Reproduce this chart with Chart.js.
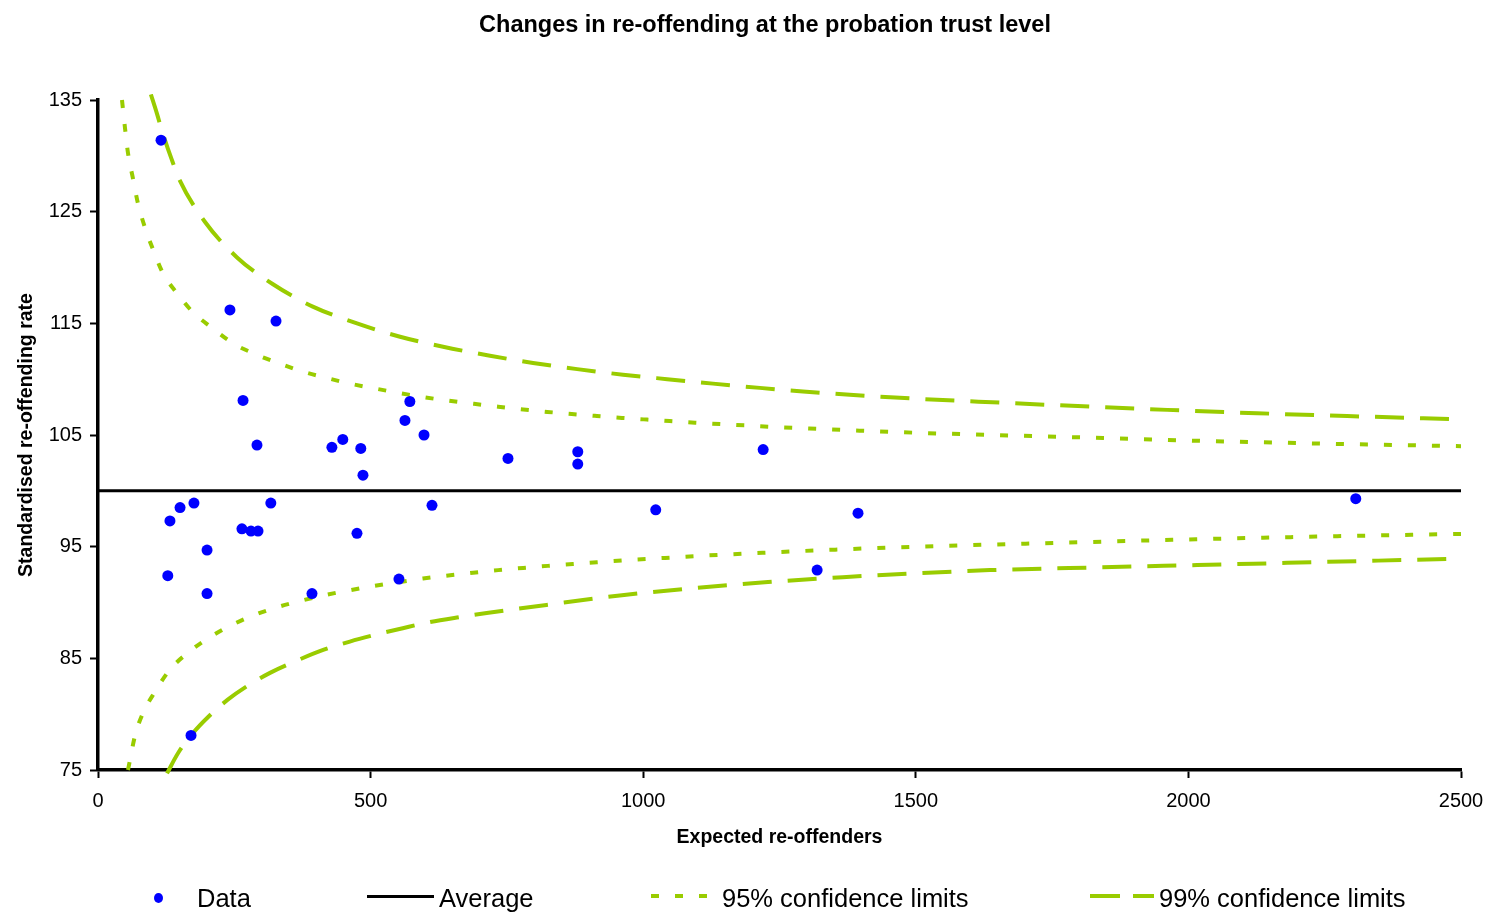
<!DOCTYPE html>
<html>
<head>
<meta charset="utf-8">
<script src="https://cdn.jsdelivr.net/npm/chart.js@4.4.0/dist/chart.umd.min.js"></script>
<style>
  html, body { margin: 0; padding: 0; background: #ffffff; }
  #wrap { position: relative; width: 1490px; height: 913px; overflow: hidden; font-family: "Liberation Sans", Arial, sans-serif; }
  #c { position: absolute; left: 0; top: 0; }
  #title { position: absolute; left: 765px; top: 13px; transform: translateX(-50%); white-space: nowrap;
           font-weight: bold; font-size: 23.5px; line-height: 1; color: #000; }
  .lg { position: absolute; white-space: nowrap; font-size: 25.5px; line-height: 1; color: #000; top: 886px; }
  .mk { position: absolute; }
</style>
</head>
<body>
<div id="wrap">
  <canvas id="c" width="1490" height="913"></canvas>
  <div id="title">Changes in re-offending at the probation trust level</div>
  <div class="mk" style="left:154px; top:893px; width:9px; height:10px; border-radius:50%; background:#0000FF;"></div>
  <div class="lg" style="left:197px;">Data</div>
  <div class="mk" style="left:367px; top:894.5px; width:67px; height:3px; background:#000;"></div>
  <div class="lg" style="left:439px;">Average</div>
  <div class="mk" style="left:651px; top:894px; width:57px; height:4px; background:repeating-linear-gradient(to right, #99CC00 0 8px, transparent 8px 24px);"></div>
  <div class="lg" style="left:722px;">95% confidence limits</div>
  <div class="mk" style="left:1090px; top:894px; width:64px; height:4px; background:repeating-linear-gradient(to right, #99CC00 0 30px, transparent 30px 43px);"></div>
  <div class="lg" style="left:1159px;">99% confidence limits</div>
</div>
<script>
// ---- Data ----
const dataX = [115.6, 242, 326.5, 266, 291.6, 429, 449, 482, 486, 563, 572, 598, 752, 880, 880, 1220, 2307,
               132, 150.5, 176, 264, 280.6, 293.5, 317, 475, 612.6, 1023, 1394,
               200, 128, 200, 392.5, 552, 1319, 170.6];
const dataY = [131.4, 116.2, 115.2, 108.1, 104.1, 103.9, 104.6, 103.8, 101.4, 106.3, 108.0, 105.0, 102.9, 103.5, 102.4, 103.7, 99.3,
               97.3, 98.5, 98.9, 96.6, 96.4, 96.4, 98.9, 96.2, 98.7, 98.3, 98.0,
               94.7, 92.4, 90.8, 90.8, 92.1, 92.9, 78.1];

const avgX = [0, 2500];
const avgY = [100, 100];

const upper95X = [44, 49.5, 55, 64, 73, 86, 101, 119, 145, 174, 209, 248, 288, 330, 374, 420, 462, 504, 554, 596, 642, 688, 734, 780, 824, 869, 915, 961, 1007, 1049, 1095, 1141, 1187, 1233, 1275, 1324, 1366, 1412, 1458, 1865, 2003, 2137, 2273, 2410, 2500];
const upper95Y = [135, 132.5, 130.25, 128.0, 125.8, 123.6, 121.6, 119.5, 117.7, 116.0, 114.6, 113.2, 112.25, 111.45, 110.7, 110.1, 109.6, 109.2, 108.75, 108.4, 108.08, 107.8, 107.53, 107.28, 107.07, 106.88, 106.7, 106.53, 106.38, 106.25, 106.1, 105.98, 105.86, 105.74, 105.64, 105.54, 105.45, 105.36, 105.27, 104.7, 104.5, 104.35, 104.2, 104.08, 104.0];

const lower95X = [55, 58.7, 68, 82.5, 104.5, 132, 165, 202, 246, 288, 330, 376, 420, 462, 508, 554, 596, 646, 688, 734, 780, 825, 871, 915, 961, 1007, 1053, 1095, 1141, 1187, 1233, 1278, 1324, 1366, 1412, 1458, 1865, 1999, 2137, 2273, 2410, 2500];
const lower95Y = [75.0, 75.9, 78.1, 80.1, 82.0, 84.0, 85.5, 86.8, 88.0, 88.9, 89.6, 90.2, 90.7, 91.1, 91.5, 91.84, 92.15, 92.44, 92.66, 92.9, 93.1, 93.28, 93.45, 93.6, 93.76, 93.9, 94.03, 94.15, 94.27, 94.38, 94.48, 94.58, 94.68, 94.76, 94.85, 94.93, 95.48, 95.65, 95.8, 95.94, 96.06, 96.14];

const upper99X = [97, 108, 117, 135, 150, 196, 255, 321, 394, 475, 554, 633, 719, 798, 879, 963, 1044, 1128, 1214, 1293, 1379, 1462, 1654, 1838, 1961, 2126, 2291, 2500];
const upper99Y = [135.5, 133.8, 132.3, 129.7, 127.8, 124.1, 120.9, 118.5, 116.5, 115.0, 113.8, 112.9, 112.1, 111.45, 110.9, 110.4, 110.0, 109.6, 109.22, 108.9, 108.6, 108.35, 107.9, 107.5, 107.25, 106.95, 106.7, 106.4];

const lower99X = [126.6, 146.7, 174, 202, 238, 273, 315.5, 365, 413, 462, 512, 559, 609, 664, 713, 825, 961, 1095, 1229, 1366, 1502, 1636, 1838, 2016, 2181, 2348, 2500];
const lower99Y = [74.7, 76.5, 78.3, 79.75, 81.3, 82.5, 83.7, 84.8, 85.75, 86.5, 87.15, 87.7, 88.25, 88.7, 89.06, 89.8, 90.65, 91.3, 91.83, 92.27, 92.62, 92.9, 93.15, 93.35, 93.55, 93.75, 93.93];

const xTicks = [0, 500, 1000, 1500, 2000, 2500];
const yTicks = [75, 85, 95, 105, 115, 125, 135];

const pts = (xs, ys) => xs.map((x, i) => ({ x: x, y: ys[i] }));

const GREEN = '#99CC00';
const lineDs = (label, xs, ys, dash) => ({
  label: label, data: pts(xs, ys), showLine: true, borderColor: GREEN, backgroundColor: GREEN,
  borderWidth: 4, borderDash: dash, pointRadius: 0, pointHoverRadius: 0,
  cubicInterpolationMode: 'monotone', fill: false, clip: 6
});

new Chart(document.getElementById('c'), {
  type: 'scatter',
  data: {
    datasets: [
      { label: 'Data', data: pts(dataX, dataY), pointRadius: 5.5, pointHoverRadius: 5.5,
        backgroundColor: '#0000FF', borderWidth: 0, showLine: false },
      { label: 'Average', data: pts(avgX, avgY), showLine: true, borderColor: '#000', borderWidth: 3,
        pointRadius: 0, pointHoverRadius: 0, fill: false },
      lineDs('95% upper', upper95X, upper95Y, [8, 16]),
      lineDs('95% lower', lower95X, lower95Y, [8, 16]),
      lineDs('99% upper', upper99X, upper99Y, [29, 16]),
      lineDs('99% lower', lower99X, lower99Y, [29, 16])
    ]
  },
  options: {
    responsive: false,
    animation: false,
    devicePixelRatio: 1,
    layout: { padding: { left: 15, top: 100, right: 29, bottom: 64 } },
    plugins: { legend: { display: false }, title: { display: false }, tooltip: { enabled: false } },
    scales: {
      x: {
        type: 'linear', min: 0, max: 2500,
        afterFit: s => { s.height = 79; s.paddingRight = 0; s.paddingLeft = 0; },
        afterBuildTicks: s => { s.ticks = xTicks.map(v => ({ value: v })); },
        ticks: { color: '#000', font: { family: 'Liberation Sans', size: 20 }, padding: 11, maxRotation: 0,
                 callback: v => String(v) },
        grid: { display: true, drawOnChartArea: false, drawTicks: true, tickLength: 8, tickColor: '#000', tickWidth: 2 },
        border: { display: true, color: '#000', width: 3.5 },
        title: { display: true, text: 'Expected re-offenders', color: '#000', padding: 0,
                 font: { family: 'Liberation Sans', size: 19.5, weight: 'bold' } }
      },
      y: {
        type: 'linear', min: 75, max: 135,
        afterFit: s => { s.width = 83; s.paddingTop = 0; s.paddingBottom = 0; },
        afterBuildTicks: s => { s.ticks = yTicks.map(v => ({ value: v })); },
        ticks: { color: '#000', font: { family: 'Liberation Sans', size: 20 }, padding: 8,
                 callback: v => String(v) },
        grid: { display: true, drawOnChartArea: false, drawTicks: true, tickLength: 8, tickColor: '#000', tickWidth: 2 },
        border: { display: true, color: '#000', width: 3.5 },
        title: { display: true, text: 'Standardised re-offending rate', color: '#000', padding: 0,
                 font: { family: 'Liberation Sans', size: 19.5, weight: 'bold' } }
      }
    }
  }
});
</script>
</body>
</html>
